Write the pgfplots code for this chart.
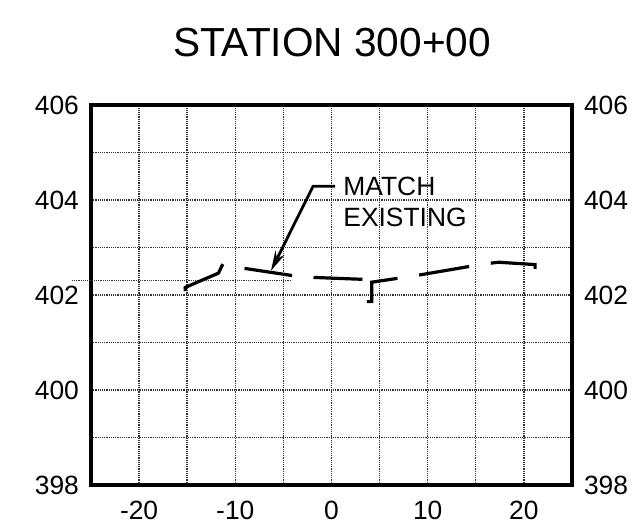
\documentclass[border=0pt]{standalone}
\usepackage{pgfplots}
\pgfplotsset{compat=1.18}
\usepackage{fontspec}
\setmainfont{Liberation Sans}
\usetikzlibrary{arrows.meta,calc}
\begin{document}
\begin{tikzpicture}
\pgfplotsset{
  common/.style={
    width=240.5pt, height=190pt, scale only axis,
    xmin=-25, xmax=25, ymin=398, ymax=406,
    ytick={398,399,...,406},
    yticklabels={398,,400,,402,,404,,406},
    major tick length=0pt,
    tick label style={font=\fontsize{13.2}{15}\selectfont},
  }
}
\begin{axis}[common, name=ax, at={(0,0)}, anchor=south west,
  xtick={-20,-15,...,20},
  xticklabels={-20,,-10,,0,,10,,20},
  xticklabel style={yshift=-4.5pt},
  yticklabel style={xshift=-2.5pt},
  grid=major,
  major grid style={black!80, line width=0.7pt, dash pattern=on 0.6pt off 0.5pt},
  axis line style={line width=1.6pt},
  clip=false]
% stray dotted line
\addplot[black!80, line width=0.7pt, dash pattern=on 0.6pt off 0.5pt] coordinates {(-27,402.30) (-4.2,402.30)};
% existing ground segments
\addplot[black, line width=1.6pt] coordinates {(-15.2,402.08) (-15.2,402.16) (-11.75,402.46) (-11.3,402.65)};
\addplot[black, line width=1.6pt] coordinates {(-9.04,402.56) (-4.1,402.41)};
\addplot[black, line width=1.6pt] coordinates {(-1.87,402.37) (3.22,402.33)};
\addplot[black, line width=1.6pt] coordinates {(3.67,401.86) (4.19,401.86) (4.19,402.27) (6.86,402.35)};
\addplot[black, line width=1.6pt] coordinates {(9.11,402.42) (14.31,402.60)};
\addplot[black, line width=1.6pt] coordinates {(16.56,402.67) (17.36,402.69) (21.17,402.64) (21.17,402.55)};
% annotation
\draw[line width=1.4pt, -{Stealth[length=10pt,width=5pt]}] (axis cs:0.39,404.29) -- (axis cs:-1.91,404.29) -- (axis cs:-6.29,402.51);
\node[anchor=west, inner sep=0pt, align=left, font=\fontsize{13.2}{15.5}\selectfont] at (axis cs:1.2,403.965) {MATCH\\EXISTING};
\end{axis}
\begin{axis}[common, at={(0,0)}, anchor=south west,
  axis x line=none, axis y line*=right, xtick=\empty,
  yticklabel style={xshift=2.5pt},
  axis line style={line width=1.6pt}]
\end{axis}
\node[anchor=base, inner sep=0pt, font=\fontsize{20.3}{24}\selectfont] at ($(ax.south west)+(120.5pt,214pt)$) {STATION 300+00};
\pgfresetboundingbox
\useasboundingbox ($(ax.south west)+(-45.5pt,-21.5pt)$) rectangle ($(ax.south west)+(271pt,242.5pt)$);
\end{tikzpicture}
\end{document}
